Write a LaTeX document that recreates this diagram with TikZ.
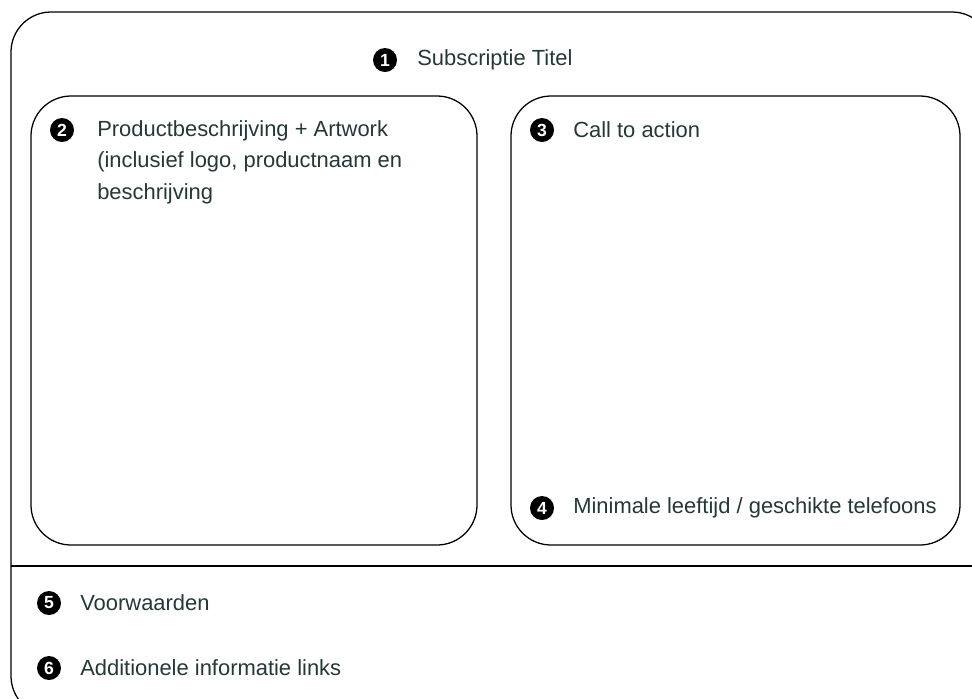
\documentclass[tikz,border=0pt]{standalone}
\usepackage{fontspec}
\setmainfont{Liberation Sans}
\usepackage{tikz}
\usetikzlibrary{positioning}
\definecolor{inkslate}{HTML}{243838}

\begin{document}
\begin{tikzpicture}[x=0.025cm,y=-0.025cm,
  panel/.style={draw=black,line width=0.9pt,rounded corners=1cm},
  num/.style={circle,fill=black,text=white,inner sep=0pt,minimum size=0.6cm,font=\bfseries\fontsize{12.5}{12.5}\selectfont},
  lbl/.style={anchor=west,text=inkslate,inner sep=0pt,font=\fontsize{15.6}{22.6}\selectfont,align=left}]
\useasboundingbox (0,0) rectangle (972,698);
\clip (0,0) rectangle (972,698);
% outer frame, partly off the page
\draw[panel] (11,12) rectangle (992,716);
\draw[line width=0.9pt] (11,566) -- (972,566);
% the two panels
\draw[panel] (31,96) rectangle (477,545);
\draw[panel] (511,96) rectangle (960,545);
% numbered labels
\node[num] (n1) at (385,60) {1};
\node[lbl,right=0.8cm of n1.center] (t1) {Subscriptie Titel};
\node[num] (n2) at (62,130) {2};
\node[lbl,anchor=north west] (t2) at (97,120) {Productbeschrijving + Artwork\\(inclusief logo, productnaam en\\beschrijving};
\node[num] (n3) at (542,130) {3};
\node[lbl,right=0.775cm of n3.center] (t3) {Call to action};
\node[num] (n4) at (542,508) {4};
\node[lbl,right=0.775cm of n4.center] (t4) {Minimale leeftijd / geschikte telefoons};
\node[num] (n5) at (49,603) {5};
\node[lbl,right=0.775cm of n5.center] (t5) {Voorwaarden};
\node[num] (n6) at (49,668) {6};
\node[lbl,right=0.775cm of n6.center] (t6) {Additionele informatie links};
\end{tikzpicture}
\end{document}
